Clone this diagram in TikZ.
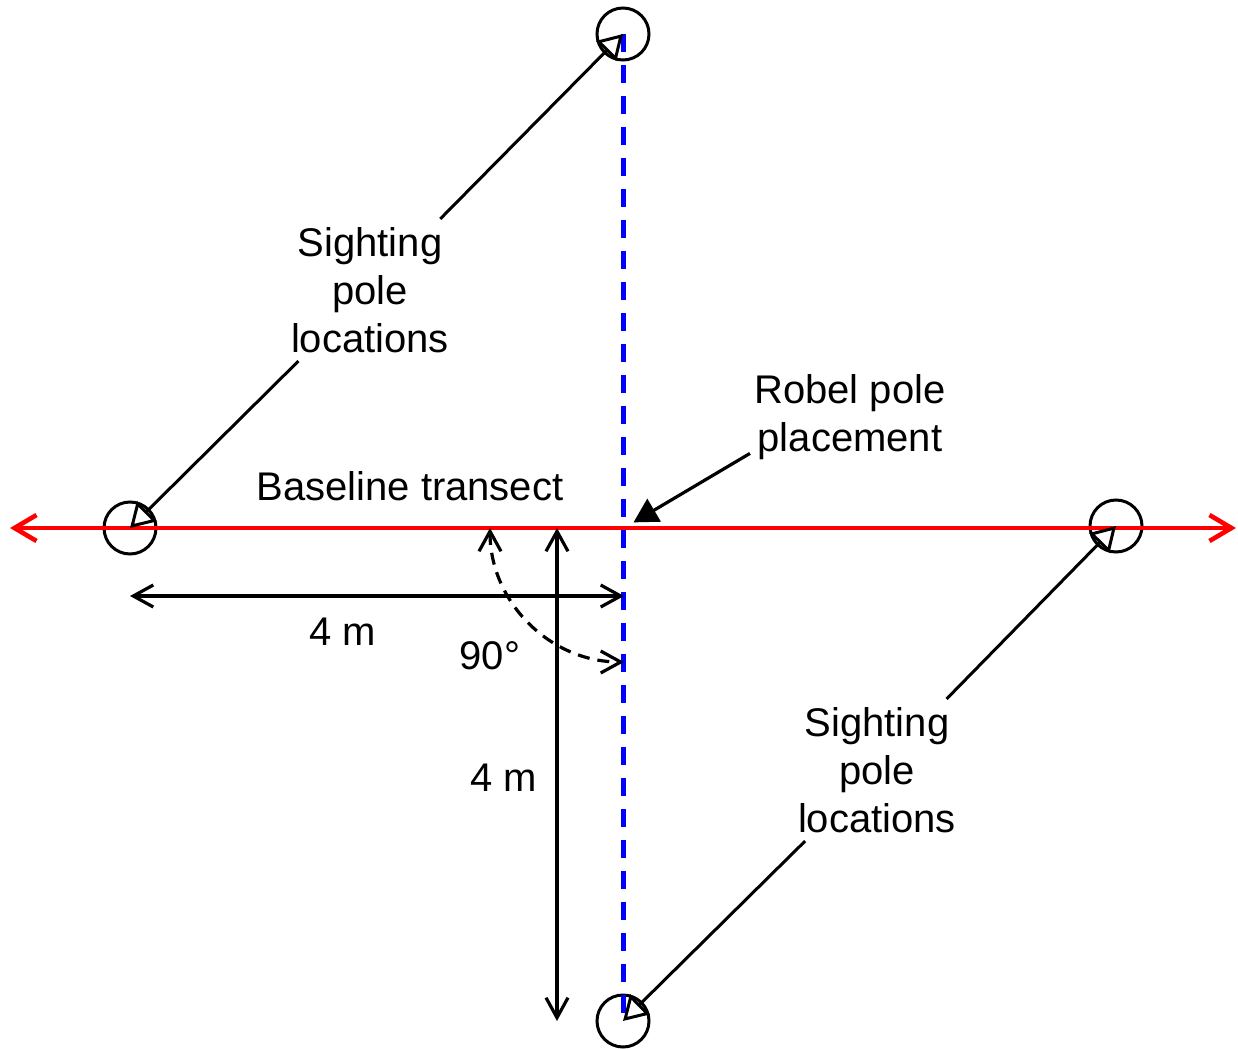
\documentclass[tikz,border=0pt]{standalone}
\usepackage{fontspec}
\setmainfont{Liberation Sans}
\usetikzlibrary{arrows.meta,calc}
\definecolor{ink}{HTML}{000000}
\definecolor{transect}{HTML}{FF0000}
\definecolor{offset}{HTML}{0000FF}

\begin{document}
\begin{tikzpicture}[
  x=0.5pt, y=-0.5pt,
  font=\fontsize{20}{24}\selectfont,
  pole/.style={
    circle,
    draw=ink,
    line width=1.5pt,
    minimum size=26pt,
    inner sep=0pt
  },
  note/.style={align=center, inner xsep=2pt, inner ysep=4pt, text=ink},
  transectline/.style={
    draw=transect,
    line width=2.3pt,
    {Straight Barb[length=11pt,width=13pt]}-{Straight Barb[length=11pt,width=13pt]}
  },
  perpline/.style={draw=offset, line width=2.5pt, dash pattern=on 9pt off 6.5pt},
  callout/.style={-{Triangle[open,length=12pt,width=14pt]}, line width=1.5pt, draw=ink},
  pointer/.style={-{Triangle[length=12pt,width=13pt]}, line width=1.6pt, draw=ink},
  dim/.style={
    {Straight Barb[length=10pt,width=11pt]}-{Straight Barb[length=10pt,width=11pt]},
    line width=1.6pt,
    draw=ink
  },
  swing/.style={dim, dash pattern=on 6pt off 4pt}
]

\path[use as bounding box] (0,0) rectangle (1238,1049);

\coordinate (origin) at (624,528);
\node[pole] (west) at (130,528) {};
\node[pole] (east) at (1116,526) {};
\node[pole] (north) at (623,34) {};
\node[pole] (south) at (623,1021) {};

\draw[perpline] (north.center) -- (south.center);

\coordinate (transectW) at (10,528);
\coordinate (transectE) at (1236,528);
\draw[transectline] (transectW) -- (transectE);

\node[note] (sightNW) at (370,290) {Sighting\\pole\\locations};
\node[note] (sightSE) at (877,770) {Sighting\\pole\\locations};
\node[note] (robel) at (850,417) {Robel pole\\placement};
\node[note, anchor=base] (transectlabel) at (410,500) {Baseline transect};

\draw[callout] (sightNW) -- (north.center);
\draw[callout] (sightNW) -- (west.center);
\draw[callout] (sightSE) -- (east.center);
\draw[callout] (sightSE) -- (south.center);
\draw[pointer, shorten >=5.5pt] (robel.200) -- (origin);

\coordinate (dimW) at ($(west.center)+(0,68)$);
\coordinate (dimE) at (origin |- dimW);
\draw[dim] (dimW) -- (dimE);
\node[note, anchor=base] (widthlabel) at (343,645) {4 m};

\coordinate (dimN) at ($(origin)+(-67,0)$);
\coordinate (dimS) at (dimN |- south.center);
\draw[dim] (dimN) -- (dimS);
\node[note, anchor=base] (lengthlabel) at (504,791) {4 m};

\draw[swing] ($(origin)+(-134,0)$) arc[start angle=180, end angle=90, radius=134];
\node[note, anchor=base] (anglelabel) at (490,669) {90°};

\end{tikzpicture}
\end{document}
